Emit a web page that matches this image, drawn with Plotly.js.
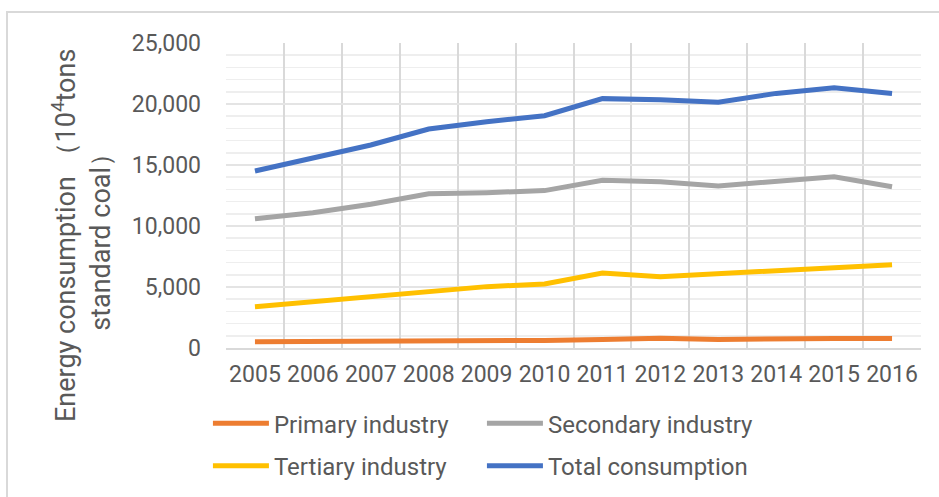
<!DOCTYPE html>
<html>
<head>
<meta charset="utf-8">
<script src="https://cdn.plot.ly/plotly-3.0.1.min.js"></script>
<style>html,body{margin:0;padding:0;background:#fff;}#chart{width:939px;height:497px;}</style>
</head>
<body>
<div id="chart"></div>
<script>
const years = ['2005','2006','2007','2008','2009','2010','2011','2012','2013','2014','2015','2016'];
const primary   = [520, 530, 530, 540, 540, 620, 700, 800, 700, 690, 780, 780];
const secondary = [10600, 11090, 11780, 12650, 12730, 12900, 13740, 13630, 13280, 13710, 14040, 13220];
const tertiary  = [3390, 3800, 4210, 4620, 5030, 5250, 6150, 5850, 6070, 6390, 6610, 6830];
const total     = [14510, 15550, 16640, 17950, 18550, 19040, 20440, 20350, 20140, 20870, 21330, 20870];
const yTicks = [0, 5000, 10000, 15000, 20000, 25000];
const yTitle = 'Energy consumption （10<sup>4</sup>tons<br>standard coal）';

const FONT = 'Roboto, "Liberation Sans", Arial, sans-serif';
const GREY = '#595959';

function tr(name, y, color, legend) {
  return {x: years, y: y, name: name, type: 'scatter', mode: 'lines',
    line: {color: color, width: 5}, legend: legend, hoverinfo: 'skip'};
}
const data = [
  tr('Primary industry', primary, '#ED7D31', 'legend'),
  tr('Secondary industry', secondary, '#A5A5A5', 'legend'),
  tr('Tertiary industry', tertiary, '#FFC000', 'legend2'),
  tr('Total consumption', total, '#4472C4', 'legend2')
];
const legBase = {orientation: 'h', xanchor: 'left', yanchor: 'top', x: -0.026,
  entrywidth: 203, itemwidth: 56, traceorder: 'normal', bgcolor: 'rgba(0,0,0,0)',
  font: {family: FONT, size: 24, color: GREY}};
const layout = {
  width: 939, height: 497,
  margin: {l: 226, r: 18, t: 43, b: 149, autoexpand: false},
  paper_bgcolor: '#fff', plot_bgcolor: '#fff',
  font: {family: FONT, color: GREY},
  showlegend: true,
  legend: Object.assign({}, legBase, {y: -0.174}),
  legend2: Object.assign({}, legBase, {y: -0.314}),
  xaxis: {type: 'category', range: [-0.5, 11.5], tickson: 'boundaries', showgrid: true, gridcolor: '#d9d9d9', gridwidth: 2,
    showline: true, linecolor: '#d9d9d9', linewidth: 2, ticks: '', ticklabelstandoff: 4, tickangle: 0,
    tickfont: {family: FONT, size: 23, color: GREY}, fixedrange: true, zeroline: false},
  yaxis: {range: [0, 25000], tickvals: yTicks, tickformat: ',d', showgrid: true, gridcolor: '#e4e4e4', gridwidth: 1.5,
    minor: {dtick: 1000, showgrid: true, gridcolor: '#eeeeee', gridwidth: 1.5},
    zeroline: false, showline: false, ticks: '', ticklabelstandoff: 24,
    tickfont: {family: FONT, size: 23, color: GREY}, fixedrange: true},
  annotations: [{text: yTitle, xref: 'paper', yref: 'paper', x: -0.2086, y: 0.367,
    xanchor: 'center', yanchor: 'middle', textangle: -90, showarrow: false,
    font: {family: FONT, size: 27, color: GREY}}],
  shapes: [{type: 'rect', xref: 'paper', yref: 'paper', x0: -0.3151, x1: 1.2, y0: -0.7, y1: 1.1016,
    line: {color: '#d9d9d9', width: 2}, layer: 'below'}]
};
Plotly.newPlot('chart', data, layout, {staticPlot: true, displayModeBar: false});
</script>
</body>
</html>
